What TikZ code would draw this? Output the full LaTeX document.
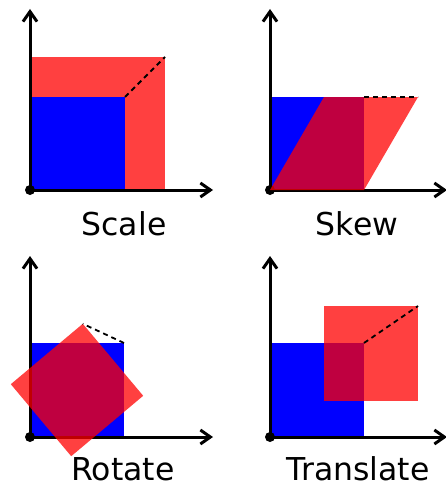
\documentclass[tikz,border=0pt]{standalone}
\usepackage{fontspec}
\setmainfont{DejaVu Sans}
\usetikzlibrary{arrows.meta}
\tikzset{
  axis/.style={line width=3pt, -{Straight Barb[length=10pt,width=14pt,line width=3pt]}},
  origin/.style={fill=black},
  bluesq/.style={fill=blue},
  redsh/.style={fill=red, fill opacity=0.75},
  guide/.style={dashed, dash pattern=on 5pt off 4pt, line width=1.8pt},
  lbl/.style={anchor=base, inner sep=0pt, text depth=0pt, font=\fontsize{31.5}{36}\selectfont}
}
\begin{document}
\begin{tikzpicture}[x=1pt,y=-1pt]
\useasboundingbox (0,0) rectangle (446,487);
% ---------- Scale ----------
\coordinate (o1) at (30,190);
\fill[red, opacity=0.75] (30,57) rectangle (165,190);
\fill[bluesq] (30,97) rectangle (125,190);
\coordinate (b1) at (125,97);
\coordinate (r1) at (165,57);
\draw[axis] (o1) -- (30,9);
\draw[axis] (o1) -- (213,190);
\fill[origin] (o1) circle (5);
\draw[guide] (b1) -- (r1);
\node[lbl] (scale) at (124,235) {Scale};
% ---------- Skew ----------
\coordinate (o2) at (270,190);
\fill[bluesq] (270,97) rectangle (364,190);
\draw[axis] (o2) -- (270,9);
\draw[axis] (o2) -- (447,190);
\fill[origin] (o2) circle (5);
\fill[redsh] (270,190) -- (364,190) -- (418,97) -- (324,97) -- cycle;
\coordinate (b2) at (364,97);
\coordinate (r2) at (418,97);
\draw[guide] (b2) -- (r2);
\node[lbl] (skew) at (357,235) {Skew};
% ---------- Rotate ----------
\coordinate (o3) at (30,437);
\fill[bluesq] (30,343) rectangle (124,437);
\draw[axis] (o3) -- (30,256);
\draw[axis] (o3) -- (213,437);
\fill[origin] (o3) circle (5);
\fill[redsh] (82.8,323.8) -- (143.2,395.8) -- (71.2,456.2) -- (10.8,384.2) -- cycle;
\coordinate (b3) at (124,343);
\coordinate (r3) at (82.8,323.8);
\draw[guide] (b3) -- (r3);
\node[lbl] (rotate) at (123,480) {Rotate};
% ---------- Translate ----------
\coordinate (o4) at (270,437);
\fill[bluesq] (270,343) rectangle (364,437);
\draw[axis] (o4) -- (270,256);
\draw[axis] (o4) -- (447,437);
\fill[origin] (o4) circle (5);
\fill[redsh] (324,306) rectangle (418,401);
\coordinate (b4) at (364,343);
\coordinate (r4) at (418,306);
\draw[guide] (b4) -- (r4);
\node[lbl] (translate) at (358,480) {Translate};
\end{tikzpicture}
\end{document}
